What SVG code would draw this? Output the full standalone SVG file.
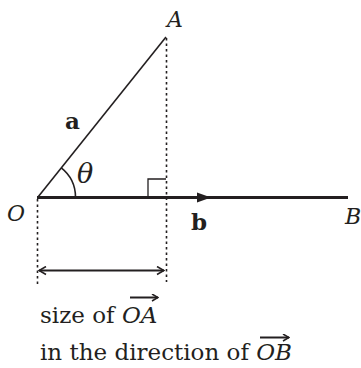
<svg xmlns="http://www.w3.org/2000/svg" width="361" height="368" viewBox="0 0 361 368">
<style>
.lbl{font-family:"DejaVu Serif","Liberation Serif",serif;font-style:italic;font-size:22px;fill:#231f20}
.bold{font-family:"DejaVu Serif","Liberation Serif",serif;font-weight:bold;font-size:23px;fill:#231f20}
.txt{font-family:"DejaVu Serif","Liberation Serif",serif;font-size:23px;fill:#231f20}
.dot{stroke:#231f20;stroke-width:1.6;stroke-dasharray:2.5 3;fill:none}
.ln{stroke:#231f20;fill:none}
</style>
<defs>
<marker id="open" markerWidth="10" markerHeight="10" refX="9" refY="5" orient="auto-start-reverse" markerUnits="userSpaceOnUse">
<path d="M2,1 L9,5 L2,9" fill="none" stroke="#231f20" stroke-width="1.6"/>
</marker>
<marker id="ov" markerWidth="10" markerHeight="8" refX="9" refY="4" orient="auto" markerUnits="userSpaceOnUse">
<path d="M3,0.5 L9,4 L3,7.5" fill="none" stroke="#231f20" stroke-width="1.5"/>
</marker>
</defs>
<g id="connectors">
<line class="ln" x1="38" y1="197" x2="166" y2="37" stroke-width="1.6"/>
<line class="dot" x1="166.5" y1="38" x2="166.5" y2="282"/>
<line class="dot" x1="37.5" y1="199" x2="37.5" y2="286"/>
<line class="ln" x1="37" y1="197.5" x2="348" y2="197.5" stroke-width="3.2"/>
<path d="M197,192.5 L211,197.5 L197,202.5 Z" fill="#231f20"/>
<path class="ln" d="M148,197 V179 H166" stroke-width="1.3"/>
<path class="ln" d="M75.5,197 A37.5,37.5 0 0 0 61.3,167.8" stroke-width="1.6"/>
<line class="ln" x1="39" y1="270.5" x2="164" y2="270.5" stroke-width="2" marker-start="url(#open)" marker-end="url(#open)"/>
</g>
<g id="node-A"><text class="lbl" x="167" y="27">A</text></g>
<g id="node-O"><text class="lbl" x="7" y="221">O</text></g>
<g id="node-B"><text class="lbl" x="345" y="224">B</text></g>
<g id="label-a"><text class="bold" x="65" y="129">a</text></g>
<g id="label-b"><text class="bold" x="191" y="230">b</text></g>
<g id="label-theta"><text class="lbl" x="77" y="183" style="font-size:27px">θ</text></g>
<g id="caption">
<text class="txt" x="40" y="323">size of <tspan font-style="italic">OA</tspan></text>
<line class="ln" x1="130" y1="297.5" x2="158" y2="297.5" stroke-width="2" marker-end="url(#ov)"/>
<text class="txt" x="40" y="360">in the direction of <tspan font-style="italic">OB</tspan></text>
<line class="ln" x1="260" y1="337.5" x2="289" y2="337.5" stroke-width="2" marker-end="url(#ov)"/>
</g>
</svg>
